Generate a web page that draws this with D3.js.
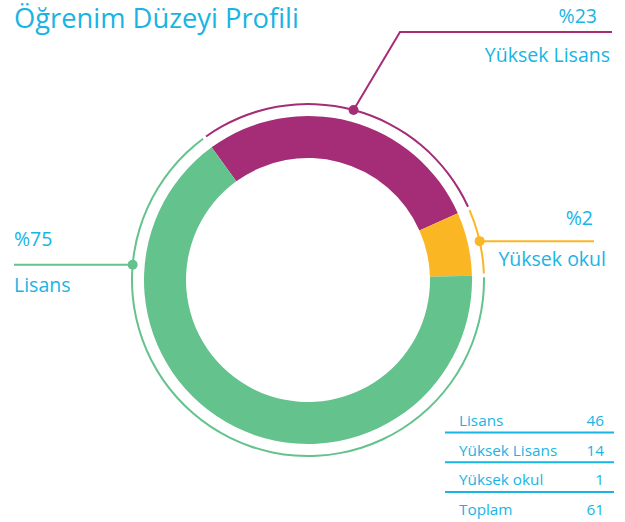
<!DOCTYPE html>
<html>
<head>
<meta charset="utf-8">
<script src="https://cdn.jsdelivr.net/npm/d3@7"></script>
<style>
  body { margin: 0; background: #fff; }
  text { font-family: "Open Sans", sans-serif; fill: #17b4e4; }
</style>
</head>
<body>
<div id="chart"></div>
<script>
const categories = ['Yüksek Lisans', 'Yüksek okul', 'Lisans'];
const counts = [14, 1, 46];
// sweep of each slice as drawn in the picture (degrees), not proportional to counts
const sweepDegrees = [102, 22.5, 235.5];
const tableOrder = ['Lisans', 'Yüksek Lisans', 'Yüksek okul'];
const colors = ['#a52d77', '#fbb624', '#64c28d'];

const width = 625;
const height = 522;
const cx = 308;
const cy = 280;
const innerR = 122;
const outerR = 164;
const ringR = 176;
const rad = Math.PI / 180;

const total = d3.sum(counts);
const data = categories.map((c, i) => ({
  name: c, count: counts[i], sweep: sweepDegrees[i], color: colors[i],
  pct: Math.round(counts[i] / total * 100),
}));

const svg = d3.select('#chart').append('svg')
  .attr('width', width)
  .attr('height', height);

const title = svg.append('text')
  .attr('x', 14)
  .attr('y', 28)
  .attr('font-size', 24)
  .text('Öğrenim Düzeyi Profili');
// fit title to the width seen in the reference
const tw = title.node().getComputedTextLength();
title.attr('font-size', Math.min(28, 24 * 285 / tw));

const pie = d3.pie()
  .sort(null)
  .value((d) => d.sweep)
  .startAngle(-36 * rad)
  .endAngle(324 * rad);

const arcs = pie(data);

const g = svg.append('g').attr('transform', `translate(${cx},${cy})`);

g.selectAll('path.slice')
  .data(arcs)
  .enter()
  .append('path')
  .attr('class', 'slice')
  .attr('d', d3.arc().innerRadius(innerR).outerRadius(outerR))
  .attr('fill', (d) => d.data.color);

// thin outer ring
g.selectAll('path.ring')
  .data(arcs)
  .enter()
  .append('path')
  .attr('class', 'ring')
  .attr('d', (d) => d3.arc().innerRadius(ringR - 1).outerRadius(ringR + 1)
    .startAngle(d.startAngle + 0.6 * rad)
    .endAngle(d.endAngle - 0.6 * rad)())
  .attr('fill', (d) => d.data.color);

// leaders
function pt(angle) {
  return [Math.sin(angle) * ringR, -Math.cos(angle) * ringR];
}

const leaders = [
  { i: 0, angle: (arcs[0].startAngle + arcs[0].endAngle) / 2 },
  { i: 1, angle: (arcs[1].startAngle + arcs[1].endAngle) / 2 },
  { i: 2, angle: 275 * rad },
];

leaders.forEach((l) => {
  const d = data[l.i];
  const [px, py] = pt(l.angle);
  const ax = cx + px;
  const ay = cy + py;
  let pts;
  let tx;
  let px2;
  let anchor;
  let ly;
  let dyTop;
  let dyBottom;
  if (l.i === 0) {
    ly = 32;
    pts = [[ax, ay], [400, ly], [612, ly]];
    tx = 610;
    px2 = 597;
    anchor = 'end';
    dyTop = -9;
    dyBottom = 30;
  } else if (l.i === 1) {
    ly = ay;
    pts = [[ax, ay], [594, ly]];
    tx = 606;
    px2 = 593;
    anchor = 'end';
    dyTop = -16;
    dyBottom = 25;
  } else {
    ly = ay;
    pts = [[14, ly], [ax, ay]];
    tx = 14;
    px2 = 14;
    anchor = 'start';
    dyTop = -19;
    dyBottom = 27;
  }
  svg.append('path')
    .attr('d', d3.line()(pts))
    .attr('fill', 'none')
    .attr('stroke', d.color)
    .attr('stroke-width', 2);
  svg.append('circle')
    .attr('cx', ax)
    .attr('cy', ay)
    .attr('r', 5)
    .attr('fill', d.color);
  svg.append('text')
    .attr('x', px2)
    .attr('y', ly + dyTop)
    .attr('text-anchor', anchor)
    .attr('font-size', 19.5)
    .text(`%${d.pct}`);
  svg.append('text')
    .attr('x', tx)
    .attr('y', ly + dyBottom)
    .attr('text-anchor', anchor)
    .attr('font-size', 19.5)
    .text(d.name);
});

// table
const rows = tableOrder.map((n) => [n, counts[categories.indexOf(n)]]);
rows.push(['Toplam', total]);

const table = svg.append('g');
rows.forEach((r, i) => {
  const by = 426 + i * 29.7;
  table.append('text')
    .attr('x', 459)
    .attr('y', by)
    .attr('font-size', 15.3)
    .text(r[0]);
  table.append('text')
    .attr('x', 604)
    .attr('y', by)
    .attr('text-anchor', 'end')
    .attr('font-size', 15.3)
    .text(r[1]);
  if (i < rows.length - 1) {
    table.append('line')
      .attr('x1', 445)
      .attr('x2', 614)
      .attr('y1', by + 6.5)
      .attr('y2', by + 6.5)
      .attr('stroke', '#17b4e4')
      .attr('stroke-width', 2);
  }
});
</script>
</body>
</html>
